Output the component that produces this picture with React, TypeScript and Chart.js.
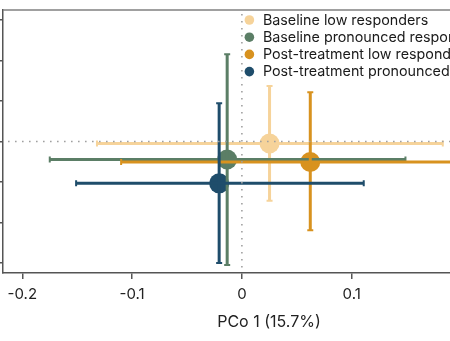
import React, { useEffect, useRef } from "react";
import { Chart, registerables } from "chart.js";

Chart.register(...registerables);

// ---- data ----
const groups = [
  "Baseline low responders",
  "Baseline pronounced responders",
  "Post-treatment low responders",
  "Post-treatment pronounced responders",
];
const groupColors = ["#F6D39A", "#5B7E66", "#D8921F", "#1F4D6B"];
const pco1 = [0.0252, -0.0134, 0.0623, -0.0207];
const pco2 = [-0.0025, -0.0222, -0.0253, -0.0516];
const pco1Low = [-0.132, -0.175, -0.11, -0.151];
const pco1High = [0.183, 0.149, 0.23, 0.111];
const pco2Low = [-0.073, -0.1525, -0.1096, -0.15];
const pco2High = [0.0685, 0.1077, 0.0607, 0.0472];
const xTickValues = [-0.2, -0.1, 0, 0.1, 0.2];
const xTickLabels = ["-0.2", "-0.1", "0", "0.1", "0.2"];
const xTitle = "PCo 1 (15.7%)";

const FONT = "Inter";
const CANVAS_W = 560;
const CANVAS_H = 341;

const refLines = {
  id: "refLines",
  afterDatasetsDraw(chart: any) {
    const { ctx, chartArea, scales } = chart;
    const xs = scales.x;
    const ys = scales.y;
    // error bars
    for (let i = 0; i < groups.length; i++) {
      const cx = xs.getPixelForValue(pco1[i]);
      const cy = ys.getPixelForValue(pco2[i]);
      const x1 = xs.getPixelForValue(pco1Low[i]);
      const x2 = xs.getPixelForValue(pco1High[i]);
      const y1 = ys.getPixelForValue(pco2Low[i]);
      const y2 = ys.getPixelForValue(pco2High[i]);
      ctx.save();
      ctx.strokeStyle = groupColors[i];
      ctx.lineWidth = 3;
      ctx.beginPath();
      ctx.moveTo(x1, cy);
      ctx.lineTo(x2, cy);
      ctx.moveTo(cx, y1);
      ctx.lineTo(cx, y2);
      ctx.stroke();
      ctx.lineWidth = 2;
      const c = 3;
      ctx.beginPath();
      ctx.moveTo(x1, cy - c);
      ctx.lineTo(x1, cy + c);
      ctx.moveTo(x2, cy - c);
      ctx.lineTo(x2, cy + c);
      ctx.moveTo(cx - c, y1);
      ctx.lineTo(cx + c, y1);
      ctx.moveTo(cx - c, y2);
      ctx.lineTo(cx + c, y2);
      ctx.stroke();
      ctx.restore();
    }
    // dotted zero lines
    ctx.save();
    ctx.strokeStyle = "#a0a0a0";
    ctx.lineWidth = 1.6;
    ctx.setLineDash([1.6, 5.4]);
    const x0 = xs.getPixelForValue(0);
    const y0 = ys.getPixelForValue(0);
    ctx.beginPath();
    ctx.moveTo(chartArea.left + 5, y0);
    ctx.lineTo(chartArea.right, y0);
    ctx.moveTo(x0, chartArea.top + 4);
    ctx.lineTo(x0, chartArea.bottom);
    ctx.stroke();
    ctx.restore();
  },
  afterDraw(chart: any) {
    const { ctx, chartArea, scales } = chart;
    // top frame line
    ctx.save();
    ctx.strokeStyle = "#808080";
    ctx.lineWidth = 1.5;
    ctx.beginPath();
    ctx.moveTo(chartArea.left, chartArea.top);
    ctx.lineTo(chartArea.right, chartArea.top);
    ctx.stroke();
    // legend
    const lx = scales.x.getPixelForValue(0) + 7.5;
    ctx.font = `14.3px ${FONT}`;
    ctx.textBaseline = "middle";
    ctx.textAlign = "left";
    for (let i = 0; i < groups.length; i++) {
      const ly = chartArea.top + 10 + i * 17.2;
      ctx.fillStyle = groupColors[i];
      ctx.beginPath();
      ctx.arc(lx, ly, 4.8, 0, Math.PI * 2);
      ctx.fill();
      ctx.fillStyle = "#1a1a1a";
      ctx.fillText(groups[i], lx + 13.5, ly + 0.5);
    }
    ctx.restore();
  },
};

export default function App() {
  const ref = useRef<HTMLCanvasElement | null>(null);
  useEffect(() => {
    if (!ref.current) return;
    const chart = new Chart(ref.current, {
      type: "scatter",
      data: {
        datasets: [
          {
            label: "groups",
            data: pco1.map((x, i) => ({ x, y: pco2[i] })),
            pointRadius: 10,
            pointHoverRadius: 10,
            pointBackgroundColor: groupColors,
            pointBorderWidth: 0,
            borderWidth: 0,
          },
        ],
      },
      options: {
        responsive: false,
        animation: false,
        events: [],
        layout: { autoPadding: false, padding: { left: 0, right: 25, top: 10, bottom: 0 } },
        plugins: { legend: { display: false }, tooltip: { enabled: false } },
        scales: {
          x: {
            type: "linear",
            min: -0.2176,
            max: 0.267,
            afterBuildTicks: (s: any) => {
              s.ticks = xTickValues.map((v) => ({ value: v }));
            },
            afterFit: (s: any) => {
              s.height = 68;
              s.paddingLeft = 0;
              s.paddingRight = 0;
            },
            ticks: {
              callback: (v: any) => {
                const k = xTickValues.findIndex((t) => Math.abs(t - v) < 1e-9);
                return k >= 0 ? xTickLabels[k] : "";
              },
              font: { family: FONT, size: 15 },
              color: "#222",
              padding: 6,
              maxRotation: 0,
              autoSkip: false,
            },
            grid: {
              display: true,
              drawOnChartArea: false,
              drawTicks: true,
              tickLength: 6,
              color: "#555",
              lineWidth: 1.5,
            },
            border: { display: true, color: "#555", width: 1.5 },
            title: {
              display: true,
              text: xTitle,
              font: { family: FONT, size: 16 },
              color: "#222",
              padding: { top: 4, bottom: 9 },
            },
          },
          y: {
            type: "linear",
            min: -0.1623,
            max: 0.1623,
            afterFit: (s: any) => {
              s.width = 3;
              s.paddingTop = 0;
              s.paddingBottom = 0;
            },
            ticks: { display: false, stepSize: 0.05, includeBounds: false },
            grid: {
              display: true,
              drawOnChartArea: false,
              drawTicks: true,
              tickLength: 3,
              color: "#555",
              lineWidth: 1.5,
            },
            border: { display: true, color: "#555", width: 1.5 },
          },
        },
      },
      plugins: [refLines],
    });
    return () => chart.destroy();
  }, []);
  return (
    <div
      style={{
        position: "absolute",
        left: 0,
        top: 0,
        width: 450,
        height: 341,
        overflow: "hidden",
        background: "#fff",
      }}
    >
      <canvas ref={ref} width={CANVAS_W} height={CANVAS_H} style={{ display: "block" }} />
    </div>
  );
}
